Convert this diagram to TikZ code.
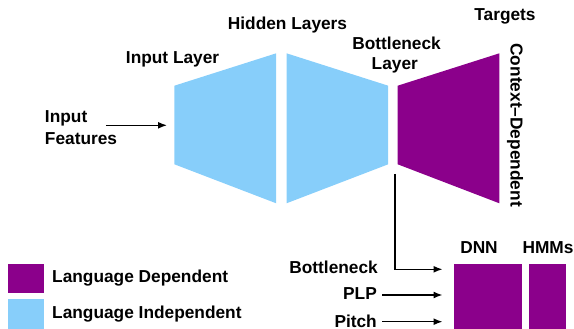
\documentclass[tikz,border=0pt]{standalone}
\usepackage{fontspec}
\setmainfont{Liberation Sans}
\usetikzlibrary{arrows.meta}
\definecolor{ldpurple}{RGB}{139,0,139}
\definecolor{liblue}{RGB}{135,206,250}

\begin{document}
\begin{tikzpicture}[x=1pt,y=-1pt,
  lbl/.style={font=\fontsize{17.3}{19.3}\selectfont\bfseries,inner sep=0pt},
  dep/.style={fill=ldpurple},
  indep/.style={fill=liblue},
  arr/.style={line width=1.4pt,-{Latex[length=9pt,width=7pt]}}]
\useasboundingbox (0,0) rectangle (574,329);
% the three layer blocks
\fill[indep] (174.4,85.7) -- (276.2,53.3) -- (276.2,203.3) -- (174.4,164.3) -- cycle;
\fill[indep] (286.5,53.3) -- (388.2,85.7) -- (388.2,164.3) -- (286.5,203.3) -- cycle;
\fill[dep] (397.7,85.7) -- (499.4,53.3) -- (499.4,203.3) -- (397.7,164.3) -- cycle;
\coordinate (inlayer) at (174.4,125.3);
\coordinate (bnout) at (394.8,174);
% layer labels
\node[lbl,anchor=base] (targets) at (505,21) {Targets};
\node[lbl,anchor=base] (hidden) at (287.5,30) {Hidden Layers};
\node[lbl,anchor=base] (inlbl) at (172.6,63.3) {Input Layer};
\node[lbl,anchor=base] (bnlbl) at (396.6,50) {Bottleneck};
\node[lbl,anchor=base] (bnlbl2) at (394.8,69.3) {Layer};
\node[lbl,rotate=-90,anchor=base west] (cdlbl) at (510.5,43.3) {Context–Dependent};
\node[lbl,anchor=base west] (inp) at (44.8,122.7) {Input};
\node[lbl,anchor=base west] (feat) at (44.8,145) {Features};
\coordinate (featarr) at (105.8,125.3);
\draw[arr,shorten >=7.4pt] (featarr) -- (inlayer);
% tandem system
\node[dep,anchor=north west,inner sep=0pt,minimum width=68.2pt,minimum height=66pt] (dnn) at (454,263.3) {};
\node[dep,anchor=north west,inner sep=0pt,minimum width=36.4pt,minimum height=66pt] (hmm) at (529.2,263.3) {};
\node[lbl,anchor=base] (dnnlbl) at (479,253.3) {DNN};
\node[lbl,anchor=base] (hmmlbl) at (548,253.3) {HMMs};
\node[lbl,anchor=base east] (bnfeat) at (378,273.3) {Bottleneck};
\draw[arr,shorten >=11.5pt] (bnout) |- (dnn.west |- 0,269.3);
\foreach \n/\t/\y/\a in {plp/PLP/299.3/295,pitch/Pitch/327.6/321.7} {
  \node[lbl,anchor=base east] (\n) at (377,\y) {\t};
  \draw[arr,shorten <=5pt,shorten >=11.5pt] (\n.east |- 0,\a) -- (dnn.west |- 0,\a);
}
% legend
\node[dep,anchor=north west,inner sep=0pt,minimum width=36.7pt,minimum height=29.4pt] (legdep) at (7.3,263.3) {};
\node[indep,anchor=north west,inner sep=0pt,minimum width=36.7pt,minimum height=30pt] (legind) at (7.3,299) {};
\node[lbl,anchor=base west] at (52,282.7) {Language Dependent};
\node[lbl,anchor=base west] at (52,318.3) {Language Independent};
\end{tikzpicture}
\end{document}
